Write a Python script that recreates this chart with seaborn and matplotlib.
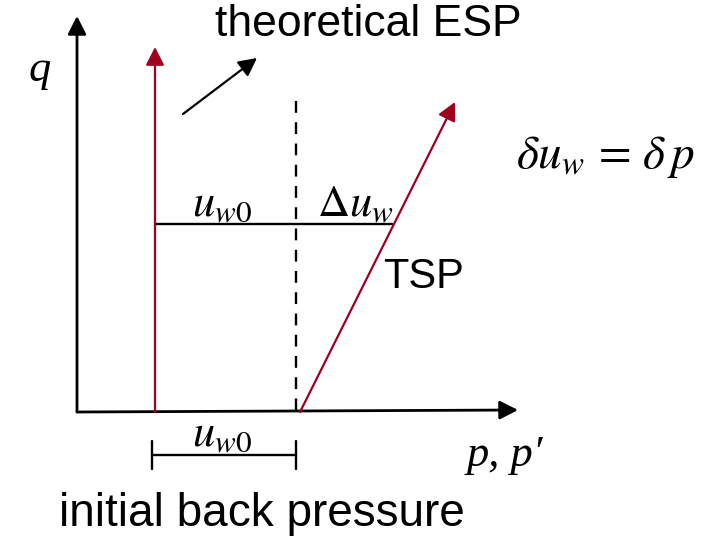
import matplotlib
matplotlib.use("Agg")
import matplotlib.pyplot as plt
import pandas as pd
import seaborn as sns

sns.set_theme(style="white")
plt.rcParams['font.family'] = ['Liberation Sans', 'DejaVu Sans']
plt.rcParams['mathtext.fontset'] = 'stix'
plt.rcParams['text.color'] = 'black'

RED = '#A0001E'

# diagram geometry, in pixel units of the 717x537 canvas (y grows downward)
origin = (77, 412)
q_tip = (77, 16)
p_tip = (518, 410)
esp_x = 155
esp_top = 47
back_x = 296
back_top = 101
tsp_start = (300, 412)
tsp_tip = (455, 102)
uw_level = 224
uw_end = 392
pointer_from = (183, 114)
pointer_to = (257, 58)
bracket_y = 455
bracket_half = 14

labels = ["theoretical ESP", "TSP", "initial back pressure"]
label_pos = [(368, 25), (424, 277), (262, 514)]
italic_labels = ["q", "p, p\u2032"]
italic_pos = [(40, 70), (505, 455)]
math_labels = [r"$u_{w0}$", r"$\Delta u_w$", r"$\delta u_w \,=\, \delta\, p$", r"$u_{w0}$"]
math_pos = [(222, 205), (355, 205), (605, 157), (222, 435)]

fig = plt.figure(figsize=(7.17, 5.37), dpi=100)
ax = fig.add_axes([0, 0, 1, 1])
ax.set_xlim(0, 717)
ax.set_ylim(537, 0)
ax.axis('off')

head = '-|>,head_length=0.55,head_width=0.28'


def arrow(start, end, color, lw):
    ax.annotate('', xy=end, xytext=start,
                arrowprops=dict(arrowstyle=head, color=color, lw=lw,
                                mutation_scale=20, shrinkA=0, shrinkB=0))


# axes
arrow(origin, q_tip, 'black', 2.0)
arrow(origin, p_tip, 'black', 2.0)
# effective stress path (vertical) and total stress path
arrow((esp_x, origin[1]), (esp_x, esp_top), RED, 1.6)
arrow(tsp_start, tsp_tip, RED, 1.6)
arrow(pointer_from, pointer_to, 'black', 1.6)

segments = pd.DataFrame({
    'x': [esp_x, uw_end, back_x, back_x,
          esp_x - 3, back_x, esp_x - 3, esp_x - 3, back_x, back_x],
    'y': [uw_level, uw_level, back_top, origin[1],
          bracket_y, bracket_y, bracket_y - bracket_half, bracket_y + bracket_half,
          bracket_y - bracket_half, bracket_y + bracket_half],
    'seg': ['uw', 'uw', 'back', 'back', 'br', 'br', 'l', 'l', 'r', 'r'],
})
for name, grp in segments.groupby('seg'):
    sns.lineplot(data=grp, x='x', y='y', sort=False, estimator=None, ax=ax,
                 color='black', lw=1.7, linestyle='--' if name == 'back' else '-')
for line in ax.get_lines():
    if line.get_linestyle() == '--':
        line.set_dashes([5, 4])

for txt, (x, y), fs in zip(labels, label_pos, [32, 30, 33]):
    ax.text(x, y, txt, fontsize=fs, ha='center', va='center', color='black')
for txt, (x, y) in zip(italic_labels, italic_pos):
    ax.text(x, y, txt, fontsize=32, ha='center', va='center', color='black',
            family='Liberation Serif', style='italic')
for txt, (x, y), fs in zip(math_labels, math_pos, [32, 32, 34, 32]):
    ax.text(x, y, txt, fontsize=fs, ha='center', va='center', color='black')

fig.savefig('out.png', dpi=100)
